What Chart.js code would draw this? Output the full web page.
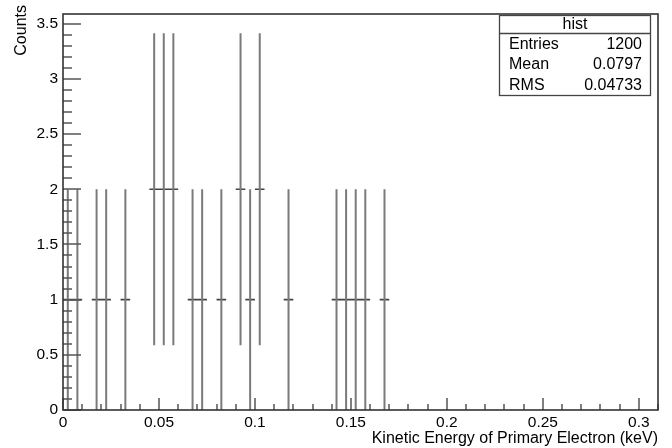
<!DOCTYPE html>
<html>
<head>
<meta charset="utf-8">
<script src="https://cdn.jsdelivr.net/npm/chart.js@4"></script>
<style>
  html, body { margin: 0; padding: 0; background: #fff; }
  #wrap { width: 672px; height: 448px; }
</style>
</head>
<body>
<div id="wrap"><canvas id="hist" width="672" height="448"></canvas></div>
<script>
// non-empty bins only (bin width 0.005 keV)
const binWidth = 0.005;
const binCenters = [0.0025, 0.0075, 0.0175, 0.0225, 0.0325, 0.0475, 0.0525, 0.0575,
  0.0675, 0.0725, 0.0825, 0.0925, 0.0975, 0.1025, 0.1175, 0.1425, 0.1475, 0.1525,
  0.1575, 0.1675];
const binCounts = [1, 1, 1, 1, 1, 2, 2, 2, 1, 1, 1, 2, 1, 2, 1, 1, 1, 1, 1, 1];

const statsNames = ["Entries", "Mean", "RMS"];
const statsValues = ["1200", "0.0797", "0.04733"];

const xMax = 0.31;
const yMax = 3.585;
const FONT = "'Liberation Sans', Arial, Helvetica, sans-serif";

// error bars: vertical +-sqrt(N), horizontal over the bin; null breaks the line
const vertPoints = [];
const horizPoints = [];
binCenters.forEach((c, i) => {
  const n = binCounts[i];
  const e = Math.sqrt(n);
  vertPoints.push({ x: c, y: n - e }, { x: c, y: n + e }, { x: c, y: null });
  horizPoints.push({ x: c - binWidth / 2, y: n }, { x: c + binWidth / 2, y: n }, { x: c, y: null });
});

// ROOT style frame with inward ticks
const rootAxes = {
  id: "rootAxes",
  afterDatasetsDraw(chart) {
    const { ctx, chartArea: a, scales: { x, y } } = chart;
    ctx.save();
    ctx.strokeStyle = "#555";
    ctx.lineWidth = 1.5;
    ctx.beginPath();
    for (let i = 0; i * 0.01 <= xMax + 1e-9; i++) {
      const px = Math.round(x.getPixelForValue(i * 0.01));
      const len = i % 5 === 0 ? 12 : 6;
      ctx.moveTo(px, a.bottom);
      ctx.lineTo(px, a.bottom - len);
    }
    for (let i = 0; i * 0.1 <= yMax + 1e-9; i++) {
      const py = Math.round(y.getPixelForValue(i * 0.1));
      const len = i % 5 === 0 ? 18 : 9;
      ctx.moveTo(a.left, py);
      ctx.lineTo(a.left + len, py);
    }
    ctx.stroke();
    ctx.strokeStyle = "#333";
    ctx.lineWidth = 1.6;
    ctx.strokeRect(Math.round(a.left), Math.round(a.top),
      Math.round(a.width), Math.round(a.height));
    ctx.restore();
  }
};

// statistics box and y axis title
const statsBox = {
  id: "statsBox",
  afterDraw(chart) {
    const ctx = chart.ctx;
    const L = 499.5, R = 650.5, T = 15.5, B = 95.5;
    ctx.save();
    ctx.fillStyle = "#fff";
    ctx.fillRect(L, T, R - L, B - T);
    ctx.strokeStyle = "#444";
    ctx.lineWidth = 1.3;
    ctx.strokeRect(L, T, R - L, B - T);
    ctx.beginPath();
    ctx.moveTo(L, 33.5);
    ctx.lineTo(R, 33.5);
    ctx.stroke();
    ctx.fillStyle = "#000";
    ctx.font = "16px " + FONT;
    ctx.textBaseline = "middle";
    ctx.textAlign = "center";
    ctx.fillText("hist", (L + R) / 2, 24.5);
    statsNames.forEach((name, i) => {
      const yy = 44.5 + i * 20.3;
      ctx.textAlign = "left";
      ctx.fillText(name, 509, yy);
      ctx.textAlign = "right";
      ctx.fillText(statsValues[i], 642, yy);
    });
    // y title, right-aligned at top of the frame
    ctx.translate(21.5, 5);
    ctx.rotate(-Math.PI / 2);
    ctx.textAlign = "right";
    ctx.textBaseline = "middle";
    ctx.font = "16px " + FONT;
    ctx.fillText("Counts", 0, 0);
    ctx.restore();
  }
};

const tickFont = { family: FONT, size: 15.5 };
const fmt = (v) => String(Number(v.toFixed(4)));

new Chart(document.getElementById("hist"), {
  type: "scatter",
  data: {
    datasets: [{
      data: vertPoints,
      showLine: true,
      spanGaps: false,
      borderColor: "#7a7a7a",
      borderWidth: 2,
      pointRadius: 0,
      tension: 0
    }, {
      data: horizPoints,
      showLine: true,
      spanGaps: false,
      borderColor: "#444",
      borderWidth: 1.6,
      pointRadius: 0,
      tension: 0
    }]
  },
  options: {
    responsive: false,
    animation: false,
    layout: { padding: { top: 4, right: 14, left: 0, bottom: 0 } },
    plugins: {
      legend: { display: false },
      tooltip: { enabled: false }
    },
    scales: {
      x: {
        type: "linear",
        min: 0,
        max: xMax,
        grid: { display: false, drawTicks: false },
        border: { display: false },
        ticks: {
          stepSize: 0.05,
          includeBounds: false,
          autoSkip: false,
          maxRotation: 0,
          padding: 3,
          color: "#000",
          font: tickFont,
          callback: fmt
        },
        title: {
          display: true,
          text: "Kinetic Energy of Primary Electron (keV)",
          align: "end",
          color: "#000",
          font: { family: FONT, size: 16 },
          padding: { top: 0, bottom: 0 }
        },
        afterFit(s) { s.height = 38; }
      },
      y: {
        type: "linear",
        min: 0,
        max: yMax,
        grid: { display: false, drawTicks: false },
        border: { display: false },
        ticks: {
          stepSize: 0.5,
          includeBounds: false,
          autoSkip: false,
          padding: 5,
          color: "#000",
          font: tickFont,
          callback: fmt
        },
        title: { display: false },
        afterFit(s) { s.width = 63; }
      }
    }
  },
  plugins: [rootAxes, statsBox]
});
</script>
</body>
</html>
